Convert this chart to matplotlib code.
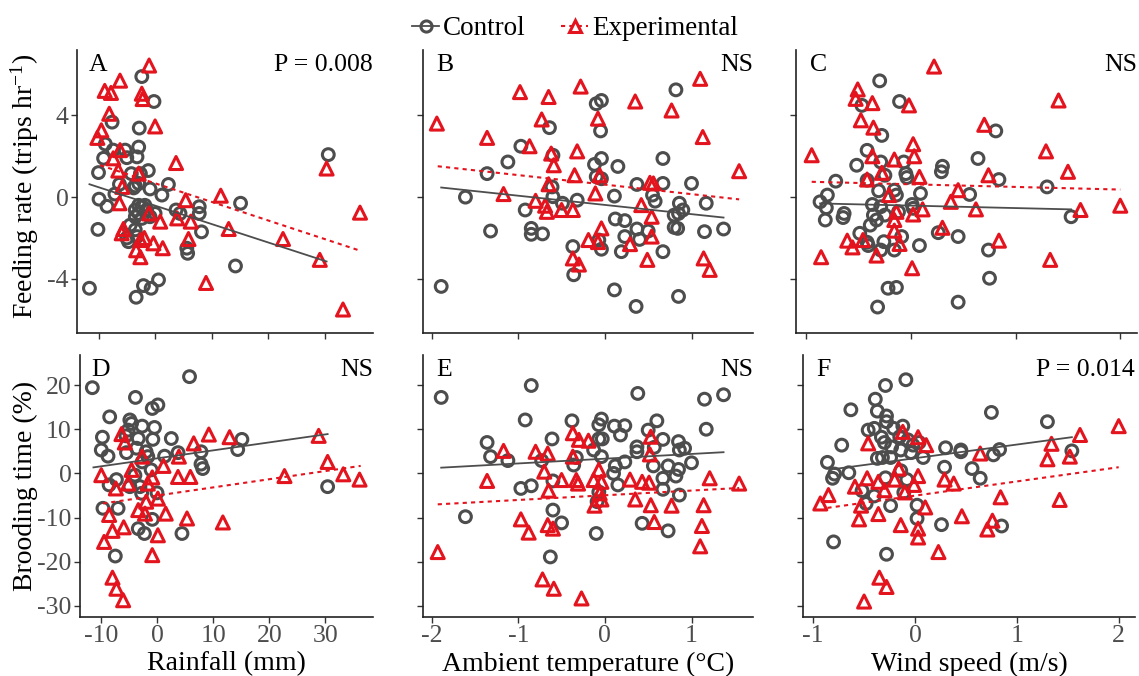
import matplotlib
matplotlib.use("Agg")
import matplotlib.pyplot as plt
from matplotlib.lines import Line2D

plt.rcParams['font.family'] = ['Liberation Serif', 'DejaVu Serif']
plt.rcParams['mathtext.default'] = 'regular'
plt.rcParams['axes.unicode_minus'] = False

GREY = '#4d4d4d'
RED = '#e3141e'

# ---- panel A: rainfall vs feeding rate
a_ctrl_x = [-2.35, -0.2, -7.6, -2.8, -8.8, -7.4, -5.3, -2.9, -9.1, -5.0, -3.2, -10.0, -4.2, -1.2, -2.6,
            -6.3, -3.5, -2.9, -0.9, 2.35, -7.1, 1.2, -9.9, -8.5, -2.9, -2.35, -1.8, -3.5, -2.9, -1.5,
            0.0, -3.5, -2.35, -0.9, 3.7, 4.4, 7.8, 7.8, 15.1, -10.1, -4.4, -3.5, -5.0, -4.7, -3.2,
            8.2, 5.6, 5.75, 14.2, -11.6, 0.6, -2.06, -0.7, -3.35, 30.6, -3.8]
a_ctrl_y = [5.9, 4.68, 3.67, 3.38, 2.6, 2.3, 2.3, 2.45, 1.9, 1.93, 1.97, 1.2, 1.15, 1.3, 1.15,
            0.63, 0.55, 0.67, 0.4, 0.62, 0.15, 0.1, -0.1, -0.45, -0.4, -0.47, -0.4, -0.63, -0.8, -0.63,
            -0.8, -0.96, -1.04, -0.96, -0.63, -0.8, -0.47, -0.8, -0.3, -1.58, -1.37, -1.6, -2.0, -2.18, -1.93,
            -1.7, -2.5, -2.75, -3.37, -4.46, -4.05, -4.33, -4.46, -4.9, 2.08, 0.45]
a_exp_x = [-1.06, -6.2, -8.9, -7.8, -2.35, -2.2, -8.1, 0.0, -9.5, -10.2, -6.2, -7.4, -6.5, -2.9, 3.7,
           -5.8, -6.3, -1.06, 0.9, 3.9, 5.4, 6.3, 11.6, 13.0, -5.9, -2.6, -1.9, -0.3, 1.35, -3.35,
           -2.6, 5.9, 22.6, 29.1, 30.3, 36.2, 33.2, 9.0, -5.6]
a_exp_y = [6.44, 5.7, 5.2, 5.1, 5.06, 4.8, 4.08, 3.46, 3.27, 2.9, 2.3, 1.9, 1.3, 1.15, 1.67,
           0.5, -0.3, -0.8, -1.2, -1.04, -0.15, -1.2, 0.07, -1.56, -1.77, -2.1, -2.0, -2.26, -2.5, -2.6,
           -2.94, -2.05, -2.05, -3.07, 1.4, -0.76, -5.5, -4.2, -1.56]
a_fit_ctrl = ([-11.6, 30.3], [0.63, -3.15])
a_fit_exp = ([-9.7, 36.2], [1.56, -2.62])

# ---- panel B: temperature vs feeding rate
b_ctrl_x = [-1.89, -1.61, -1.36, -1.12, -0.97, -1.32, -0.92, -0.85, -0.85, -0.72, -0.64, -0.6, -0.61, -0.6,
            -0.49, -0.32, -0.1, -0.04, -0.05, -0.12, -0.04, -0.1, -0.04, 0.15, 0.11, 0.12, 0.23, 0.23,
            0.37, 0.55, 0.58, 0.37, 0.5, 0.4, 0.67, 0.67, 0.82, 0.86, 0.8, 0.85, 0.9, 0.8, 0.84, 1.0,
            1.17, 1.15, 1.37, -0.37, -0.36, -0.04, 0.19, 0.67, 0.11, 0.36, 0.85, -0.07]
b_ctrl_y = [-4.37, 0.0, 1.15, 1.72, 2.49, -1.66, -0.63, -1.53, -1.82, -1.8, 3.4, 2.05, 0.5, 0.02,
            -0.3, -0.15, 4.57, 4.73, 3.24, 1.6, 1.89, 1.0, 0.9, 1.5, 0.05, -1.07, -1.15, -1.93,
            0.62, 0.1, -0.2, -1.56, -1.66, -2.07, 1.89, 0.67, 5.25, -0.3, -0.88, -0.8, -0.63, -1.48, -1.53, 0.67,
            -0.3, -1.69, -1.56, -2.42, -3.8, -2.55, -2.67, -2.67, -4.54, -5.35, -4.86, -2.1]
b_exp_x = [-1.94, -1.36, -0.98, -0.65, -0.73, -0.28, -0.08, 0.35, 0.77, 1.1, 1.13, 1.55, -0.87, -0.62,
           -0.59, -0.32, -0.35, -0.65, -1.17, -0.8, -0.69, -0.67, -0.5, -0.37, -0.11, -0.06, 0.52, 0.56,
           0.42, 0.54, 0.54, -0.04, -0.19, -0.08, 0.29, -0.37, -0.3, 0.49, 1.14, 1.21]
b_exp_y = [3.6, 2.9, 5.14, 4.9, 3.8, 5.41, 3.84, 4.68, 4.24, 5.79, 2.94, 1.27, 2.49, 2.13,
           1.56, 2.24, 1.07, 0.63, 0.15, -0.18, -0.42, -0.72, -0.63, -0.63, 0.18, 1.07, 0.7, 0.67,
           -0.39, -0.96, -1.93, -1.53, -2.1, -2.2, -2.3, -3.0, -3.3, -3.07, -3.0, -3.56]
b_fit_ctrl = ([-1.89, 1.37], [0.47, -1.0])
b_fit_exp = ([-1.93, 1.55], [1.51, -0.11])

# ---- panel C: wind speed vs feeding rate
c_ctrl_x = [-0.3, -0.11, -0.47, -0.28, -0.42, -0.52, -0.29, -0.72, -0.42, -0.25, -0.07, -0.05, -0.04, -0.16,
            -0.14, -0.31, -0.8, -0.87, -0.81, -0.82, -0.64, -0.65, -0.37, -0.29, -0.36, -0.33, -0.39, -0.25,
            -0.12, 0.01, 0.02, 0.09, 0.3, 0.29, 0.56, 0.64, 0.84, 0.81, 1.3, 1.53, -0.49, -0.42, -0.41,
            -0.26, -0.29, -0.16, -0.09, 0.08, 0.26, 0.45, 0.74, 0.75, -0.22, -0.14, -0.32, 0.45]
c_ctrl_y = [5.69, 4.68, 4.49, 3.02, 2.29, 1.56, 1.72, 0.78, 0.83, 1.07, 1.72, 1.15, 0.96, 0.34,
            0.1, 0.31, 0.1, -0.23, -0.52, -1.12, -0.8, -1.0, -0.36, -0.47, -0.88, -1.12, -1.37, -0.88,
            -0.72, -0.36, -0.55, 0.18, 1.51, 1.24, 0.13, 1.89, 0.86, 3.24, 0.5, -0.96, -1.77, -2.21, -2.37,
            -2.18, -2.59, -2.59, -1.93, -2.37, -1.74, -1.93, -2.59, -3.97, -4.46, -4.42, -5.38, -5.14]
c_exp_x = [0.22, -0.51, -0.53, -0.37, -0.02, -0.48, -0.36, 0.7, 1.41, -0.95, -0.37, -0.16, 0.02, 0.03,
           1.29, 1.5, 0.74, 0.08, -0.28, -0.42, -0.21, 0.45, 0.38, 0.62, 0.11, 0.02, -0.14, -0.16,
           -0.16, 0.3, -0.11, -0.61, -0.56, -0.46, -0.33, -0.86, 0.01, 0.84, 1.33, 1.62, 2.0]
c_exp_y = [6.39, 5.27, 4.81, 4.6, 4.49, 3.76, 3.4, 3.54, 4.73, 2.05, 2.0, 1.84, 2.59, 2.0,
           2.24, 1.24, 1.07, 0.99, 1.19, 0.86, 0.1, 0.34, -0.23, -0.6, -0.6, -0.85, -0.72, -1.12,
           -1.64, -1.5, -2.29, -2.13, -2.46, -2.1, -2.86, -2.94, -3.48, -2.13, -3.07, -0.63, -0.42]
c_fit_ctrl = ([-0.87, 1.53], [-0.31, -0.6])
c_fit_exp = ([-0.95, 2.0], [0.75, 0.37])

# ---- panel D: rainfall vs brooding time
d_ctrl_x = [-11.6, 5.75, -3.9, -0.9, 0.1, -8.5, -4.9, -4.6, -2.7, -0.5, -9.8, -5.6, -3.4, -0.8, 2.5,
            15.1, 14.35, -10.0, -8.8, -5.5, -3.7, -2.0, 1.3, 3.7, 7.8, 7.8, 8.1, -2.7, -1.1, -4.0,
            -7.3, -8.6, -4.9, -2.8, -0.06, 30.4, -9.7, -7.0, -0.9, -3.4, -2.3, 4.4, -7.5, -3.1, -1.7, -5.2]
d_ctrl_y = [19.4, 21.9, 17.2, 14.7, 15.5, 12.8, 12.1, 11.3, 10.7, 10.4, 8.2, 8.5, 7.9, 7.7, 7.9,
            7.7, 5.4, 5.3, 3.9, 4.7, 5.7, 4.9, 3.9, 4.7, 4.9, 2.1, 1.1, 2.6, 0.8, -0.4,
            -1.4, -2.6, -3.0, -4.5, -4.4, -3.0, -7.9, -7.9, -10.4, -12.5, -13.6, -13.6, -18.7, -3.0, 3.8, 9.8]
d_exp_x = [-10.0, -6.4, -5.8, -2.7, -4.6, -5.2, -7.4, -1.7, -0.9, 1.1, 3.7, 5.9, 3.85, 6.5, 9.2,
           12.9, 28.8, 30.4, 33.2, 36.1, 22.7, 0.1, -2.0, -3.4, -2.2, 1.5, -8.6, 5.3, 11.7, -6.0,
           -8.0, -9.5, 0.1, -0.9, -8.0, -7.3, -6.1]
d_exp_y = [-0.4, 8.9, 7.0, 3.8, 0.8, -2.3, -3.4, -2.3, -0.9, 1.7, -0.8, -0.8, 3.8, 6.8, 8.8,
           8.2, 8.5, 2.6, -0.2, -1.4, -0.6, -5.7, -6.4, -8.3, -9.1, -9.1, -9.4, -10.2, -11.1, -12.2,
           -13.0, -15.5, -14.0, -18.5, -23.6, -26.1, -28.7]
d_fit_ctrl = ([-11.4, 30.4], [1.36, 8.9])
d_fit_exp = ([-9.7, 36.3], [-6.8, 1.7])

# ---- panel E: temperature vs brooding time
e_ctrl_x = [-1.89, -0.85, 0.38, 1.15, 1.37, -0.92, -0.38, -0.04, -0.07, 0.11, 0.23, 0.18, 0.6, 0.5, 1.17,
            -0.61, -1.36, -1.32, -1.12, -0.73, -0.33, -0.36, -0.07, -0.03, -0.13, -0.04, 0.12, 0.1, 0.23,
            0.37, 0.37, 0.57, 0.67, 0.56, 0.73, 0.85, 0.86, 0.92, 1.0, 0.85, 0.82, 0.67, 0.67, 0.86,
            -0.97, -0.85, -0.6, 0.15, -0.07, -0.09, -1.61, -0.6, -0.5, -0.1, 0.43, 0.73, -0.63]
e_ctrl_y = [17.2, 19.9, 18.1, 16.8, 17.8, 12.1, 11.9, 12.3, 11.0, 10.7, 10.8, 8.7, 11.9, 9.8, 10.0,
            7.8, 7.0, 3.8, 2.9, 2.9, 3.6, 1.9, 7.8, 7.8, 5.3, 3.8, 1.7, 0.0, 2.6,
            6.0, 4.9, 5.9, 7.7, 1.7, 1.7, 7.2, 5.3, 5.7, 2.4, 0.9, -0.6, -1.1, -3.6, -4.9,
            -3.4, -2.8, -1.7, -2.6, -4.2, -6.4, -9.8, -8.3, -11.2, -13.6, -11.3, -13.0, -18.9]
e_exp_x = [-0.37, -0.3, -0.19, 0.53, 0.52, -1.17, -0.8, -0.66, -0.37, -0.7, -1.36, -0.5, -0.33, -0.31,
           -0.13, -0.07, -0.04, 0.29, 0.43, 0.51, 1.21, 1.55, -0.65, -0.06, -0.04, -0.12, 0.35, 0.53,
           0.77, 1.14, -0.97, -0.88, -0.66, -0.6, 0.57, 1.12, 1.1, -1.93, -0.72, -0.59, -0.27]
e_exp_y = [9.1, 7.6, 7.4, 8.3, 4.3, 5.1, 4.9, 4.5, 3.8, 0.4, -1.7, -1.5, -1.5, -2.3,
           -1.5, 0.8, -1.9, -1.4, -1.9, -2.1, -1.1, -2.3, -3.9, -4.5, -5.9, -7.3, -5.9, -7.2,
           -7.3, -7.2, -10.4, -13.4, -11.7, -12.5, -11.0, -11.9, -16.5, -17.8, -24.0, -26.1, -28.3]
e_fit_ctrl = ([-1.89, 1.37], [1.3, 4.8])
e_fit_exp = ([-1.93, 1.55], [-7.0, -3.3])

# ---- panel F: wind speed vs brooding time
f_ctrl_x = [-0.09, -0.29, -0.39, -0.63, -0.37, -0.28, -0.28, 0.75, 1.3, -0.46, -0.4, -0.21, -0.12, -0.33,
            -0.3, -0.15, -0.07, -0.02, 0.04, -0.72, -0.23, -0.14, -0.04, 0.08, 0.3, 0.45, 0.45, 0.83,
            0.77, 1.54, -0.37, -0.32, -0.24, -0.86, -0.79, -0.81, -0.65, -0.14, -0.08, 0.29, 0.56, 0.64,
            -0.29, -0.52, -0.4, -0.48, -0.24, -0.11, 0.02, 0.02, 0.26, 0.85, -0.8, -0.28]
f_ctrl_y = [21.2, 19.9, 16.8, 14.4, 14.1, 13.0, 11.7, 13.8, 11.7, 9.8, 10.2, 10.2, 10.7, 8.2,
            7.0, 8.3, 7.6, 6.4, 7.0, 6.4, 6.0, 5.3, 4.7, 3.6, 5.8, 5.3, 4.9, 5.4,
            4.2, 5.1, 3.4, 3.6, 3.6, 2.5, -0.15, -1.1, 0.15, 0.6, -1.4, 1.4, 1.1, -1.1,
            -1.0, -3.9, -5.1, -6.8, -7.3, -4.3, -7.2, -10.2, -11.6, -11.9, -15.5, -18.3]
f_exp_x = [-0.12, 0.03, 0.11, -0.46, 0.64, 1.34, 1.62, 2.0, 1.3, 1.52, -0.16, -0.47, -0.36, -0.2,
           0.03, -0.01, 0.29, 0.38, -0.59, -0.3, -0.85, -0.93, -0.53, -0.1, 0.1, 0.84, 1.42, -0.36,
           -0.55, -0.14, 0.03, 0.03, 0.46, 0.76, 0.71, 0.23, -0.35, -0.28, -0.5]
f_exp_y = [9.4, 8.2, 6.4, 6.8, 4.5, 6.7, 8.7, 10.7, 3.2, 3.8, 1.1, -1.1, -1.9, -1.4,
           -0.6, -2.6, -1.4, -2.3, -3.0, -3.8, -4.9, -6.8, -7.3, -4.3, -7.7, -5.4, -6.0, -9.2,
           -10.4, -11.7, -12.5, -14.5, -9.7, -10.7, -12.7, -17.8, -23.6, -25.7, -29.0]
f_fit_ctrl = ([-0.79, 1.54], [1.0, 8.2])
f_fit_exp = ([-0.86, 2.0], [-7.8, 1.4])

letters = ['A', 'B', 'C', 'D', 'E', 'F']
stats = ['P = 0.008', 'NS', 'NS', 'NS', 'NS', 'P = 0.014']
xlabels = ['Rainfall (mm)', 'Ambient temperature (°C)', 'Wind speed (m/s)']
ylabels = ['Feeding rate (trips hr$^{-1}$)', 'Brooding time (%)']

panels = [
    (a_ctrl_x, a_ctrl_y, a_exp_x, a_exp_y, a_fit_ctrl, a_fit_exp),
    (b_ctrl_x, b_ctrl_y, b_exp_x, b_exp_y, b_fit_ctrl, b_fit_exp),
    (c_ctrl_x, c_ctrl_y, c_exp_x, c_exp_y, c_fit_ctrl, c_fit_exp),
    (d_ctrl_x, d_ctrl_y, d_exp_x, d_exp_y, d_fit_ctrl, d_fit_exp),
    (e_ctrl_x, e_ctrl_y, e_exp_x, e_exp_y, e_fit_ctrl, e_fit_exp),
    (f_ctrl_x, f_ctrl_y, f_exp_x, f_exp_y, f_fit_ctrl, f_fit_exp),
]

# axes boxes in pixels (left, right, top, bottom) on a 1139x676 canvas
W, H = 1139, 676
boxes = [(77, 373, 50, 333), (423, 753, 50, 333), (796, 1137, 50, 333),
         (80, 373, 355, 617), (423, 753, 355, 617), (803, 1135, 355, 617)]
xlims = [(-13.8, 38.5), (-2.1, 1.71), (-1.10, 2.16)]
ylims = [(-6.65, 7.2), (-32.5, 26.8)]
xticks = [[-10, 0, 10, 20, 30], [-2, -1, 0, 1], [-1, 0, 1, 2]]
yticks = [[-4, 0, 4], [-30, -20, -10, 0, 10, 20]]

fig = plt.figure(figsize=(W / 100, H / 100), dpi=100)

for i, (cx, cy, ex, ey, fc, fe) in enumerate(panels):
    l, r, t, b = boxes[i]
    ax = fig.add_axes([l / W, 1 - b / H, (r - l) / W, (b - t) / H])
    row, col = divmod(i, 3)

    ax.scatter(cx, cy, s=72, facecolors='none', edgecolors=GREY, linewidths=2.2, marker='o', zorder=3)
    ax.scatter(ex, ey, s=88, facecolors='none', edgecolors=RED, linewidths=2.2, marker='^', zorder=3)
    ax.plot(fc[0], fc[1], color=GREY, lw=1.3, zorder=4)
    ax.plot(fe[0], fe[1], color=RED, lw=1.5, ls=(0, (2, 2)), zorder=4)

    ax.set_xlim(xlims[col])
    ax.set_ylim(ylims[row])
    ax.set_xticks(xticks[col])
    ax.set_yticks(yticks[row])
    for s in ['top', 'right']:
        ax.spines[s].set_visible(False)
    for s in ['left', 'bottom']:
        ax.spines[s].set_color('#222222')
        ax.spines[s].set_linewidth(1.2)
    ax.tick_params(length=4, width=1.0, color='#333333', labelcolor=GREY, labelsize=18.5, pad=2)
    if col > 0:
        ax.tick_params(axis='y', labelleft=False)
    if row == 0:
        ax.tick_params(axis='x', labelbottom=False)
    else:
        ax.set_xlabel(xlabels[col], fontsize=20, labelpad=3)

    ax.text(0.04, 0.985, letters[i], transform=ax.transAxes, ha='left', va='top', fontsize=18.5)
    ax.text(1.0, 0.985, stats[i], transform=ax.transAxes, ha='right', va='top', fontsize=18.5)

fig.text(25 / W, 1 - 186 / H, ylabels[0], rotation=90, ha='center', va='center', fontsize=20)
fig.text(25 / W, 1 - 486 / H, ylabels[1], rotation=90, ha='center', va='center', fontsize=20)

handles = [
    Line2D([0], [0], color=GREY, lw=1.3, marker='o', markersize=8, markerfacecolor='none',
           markeredgecolor=GREY, markeredgewidth=2.2),
    Line2D([0], [0], color=RED, lw=1.5, ls=(0, (2, 2)), marker='^', markersize=9,
           markerfacecolor='none', markeredgecolor=RED, markeredgewidth=2.2),
]
fig.legend(handles, ['Control', 'Experimental'], loc='upper center', bbox_to_anchor=(0.505, 1.012),
           ncol=2, frameon=False, fontsize=19.5, handlelength=1.0, handletextpad=0.15, columnspacing=1.3)

fig.savefig('out.png', dpi=100)
